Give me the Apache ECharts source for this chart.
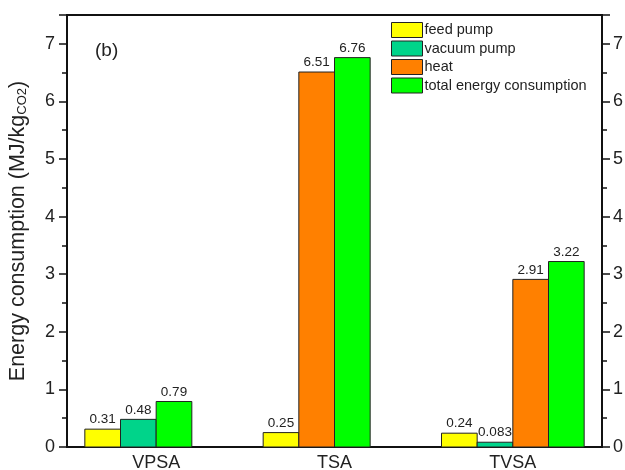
<!DOCTYPE html>
<html>
<head>
    <meta charset="utf-8">
    <script src="https://cdn.jsdelivr.net/npm/echarts@6/dist/echarts.min.js"></script>
</head>
<body style="margin:0">
    <div id="main" style="width: 625px;height:470px;"></div>
    <script type="text/javascript">
        // values (null = bar not drawn)
        var categories = ['VPSA', 'TSA', 'TVSA'];
        var seriesNames = ['feed pump', 'vacuum pump', 'heat', 'total energy consumption'];
        var feedPump = [0.31, 0.25, 0.24];
        var vacuumPump = [0.48, null, 0.083];
        var heat = [null, 6.51, 2.91];
        var total = [0.79, 6.76, 3.22];
        var colors = ['#ffff00', '#00d48a', '#ff8000', '#00ff00'];

        var allData = [feedPump, vacuumPump, heat, total];

        // bars are packed to the left inside each group, so work out slot per bar
        var slots = allData.map(function () { return []; });
        categories.forEach(function (c, ci) {
            var k = 0;
            allData.forEach(function (arr, si) {
                if (arr[ci] != null) {
                    slots[si][ci] = k;
                    k++;
                }
            });
        });

        var myChart = echarts.init(document.getElementById('main'));
        var font = 'Liberation Sans, Arial, sans-serif';

        function makeSeries(si) {
            var data = [];
            allData[si].forEach(function (v, ci) {
                if (v != null) data.push([ci, v, slots[si][ci]]);
            });
            return {
                name: seriesNames[si],
                type: 'custom',
                itemStyle: { color: colors[si], borderColor: '#222', borderWidth: 1 },
                renderItem: function (params, api) {
                    var ci = api.value(0);
                    var v = api.value(1);
                    var slot = api.value(2);
                    var base = api.coord([ci, 0]);
                    var top = api.coord([ci, v]);
                    var band = api.size([1, 0])[0];
                    var barW = band * 0.8 / 4;
                    var x0 = base[0] - band * 0.4 + slot * barW;
                    return {
                        type: 'rect',
                        shape: { x: x0, y: top[1], width: barW, height: base[1] - top[1] },
                        style: { fill: colors[si], stroke: '#222', lineWidth: 1 },
                        textContent: {
                            style: { text: String(v), fontSize: 13.5, fontFamily: font, fill: '#222' }
                        },
                        textConfig: { position: 'top', distance: 2 }
                    };
                },
                data: data
            };
        }

        var yCommon = {
            type: 'value',
            min: 0,
            max: 7.5,
            interval: 1,
            axisLine: { show: true, lineStyle: { color: '#111', width: 2 } },
            axisTick: { show: true, length: 8, lineStyle: { color: '#111', width: 1.5 } },
            minorTick: { show: true, splitNumber: 2, length: 5, lineStyle: { color: '#111', width: 1.5 } },
            splitLine: { show: false },
            axisLabel: {
                fontSize: 18, fontFamily: font, color: '#222', margin: 12,
                formatter: function (v) { return v % 1 === 0 ? v : ''; }
            }
        };

        var option = {
            animation: false,
            grid: {
                left: 67, right: 23, top: 15, bottom: 23,
                outerBoundsMode: 'none', containLabel: false,
                show: true, borderColor: '#111', borderWidth: 2
            },
            title: {
                text: '(b)', left: 90, top: 36,
                textStyle: { fontSize: 19, fontWeight: 'normal', fontFamily: font, color: '#222' }
            },
            legend: {
                orient: 'vertical',
                left: 386, top: 17,
                itemWidth: 31, itemHeight: 15, itemGap: 2.5,
                icon: 'rect',
                itemStyle: { borderColor: '#222', borderWidth: 1 },
                textStyle: { fontSize: 14.5, fontFamily: font, color: '#222', padding: [0, 0, 0, -3] },
                data: seriesNames
            },
            xAxis: {
                type: 'category',
                data: categories,
                axisLine: { lineStyle: { color: '#111', width: 2 } },
                axisTick: { show: false },
                axisLabel: { fontSize: 18, fontFamily: font, color: '#222', margin: 7 }
            },
            yAxis: [
                Object.assign({}, yCommon, {
                    position: 'left',
                    name: '{a|Energy consumption (MJ/kg}{s|CO2}{a|)}',
                    nameLocation: 'middle',
                    nameGap: 38,
                    nameTextStyle: {
                        rich: {
                            a: { fontSize: 21.5, fontFamily: font, color: '#222' },
                            s: { fontSize: 13, fontFamily: font, color: '#222', verticalAlign: 'bottom', padding: [9, 0, 0, 0] }
                        }
                    }
                }),
                Object.assign({}, yCommon, { position: 'right', axisLabel: Object.assign({}, yCommon.axisLabel, { margin: 11 }) })
            ],
            series: [0, 1, 2, 3].map(makeSeries)
        };
        myChart.setOption(option);
    </script>
</body>
</html>
